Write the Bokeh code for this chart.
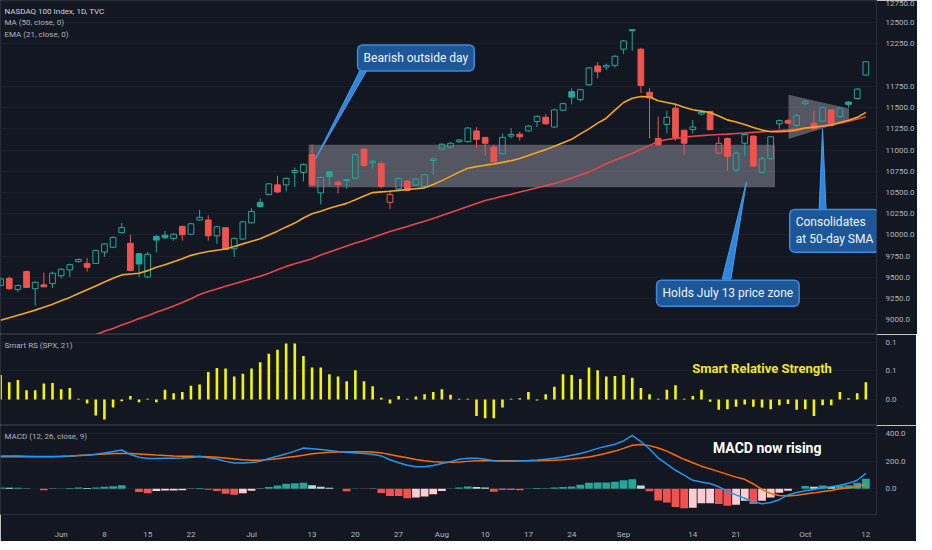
from bokeh.plotting import figure
from bokeh.layouts import column
from bokeh.models import Range1d, FixedTicker, PrintfTickFormatter, Label, ColumnDataSource
from bokeh.embed import file_html
from bokeh.resources import INLINE

# ---------------- data ----------------
opens = [9405, 9489, 9359, 9570, 9367, 9413, 9428, 9520, 9589, 9688,
         9665, 9665, 9799, 9856, 10028, 9902, 9780, 9505, 9983, 9998,
         9960, 10101, 10009, 10177, 10177, 9990, 10086, 9837, 9952, 10143,
         10384, 10476, 10590, 10590, 10736, 10736, 10946, 10495, 10743, 10621,
         10640, 10667, 11011, 10850, 10843, 10384, 10544, 10636, 10590, 10571,
         10877, 11011, 11034, 11099, 11099, 11225, 11149, 11034, 10957, 11164,
         11187, 11225, 11336, 11386, 11271, 11469, 11688, 11596, 11768, 11990,
         11978, 11997, 12188, 12406, 12188, 11680, 11137, 11301, 11493, 11233,
         11240, 11424, 11454, 10965, 11137, 10766, 11080, 11164, 10736, 10896,
         11309, 11347, 11290, 11546, 11317, 11340, 11473, 11393, 11565, 11607,
         11883]
highs = [9505, 9512, 9417, 9581, 9455, 9558, 9566, 9608, 9661, 9723,
         9730, 9826, 9906, 9983, 10143, 10002, 9788, 9799, 10002, 10047,
         10021, 10112, 10143, 10296, 10231, 10109, 10093, 9971, 10166, 10315,
         10430, 10613, 10697, 10678, 10793, 10843, 11068, 10690, 10755, 10640,
         10663, 10957, 11022, 10881, 10869, 10525, 10678, 10648, 10671, 10720,
         10904, 11080, 11091, 11129, 11271, 11271, 11156, 11061, 11194, 11259,
         11214, 11294, 11409, 11424, 11485, 11558, 11730, 11722, 11978, 12035,
         12016, 12120, 12295, 12425, 12204, 11730, 11393, 11462, 11546, 11240,
         11355, 11470, 11462, 11156, 11149, 10984, 11194, 11171, 10927, 11164,
         11359, 11366, 11424, 11592, 11462, 11512, 11481, 11504, 11577, 11730,
         12045]
lows = [9390, 9352, 9329, 9375, 9168, 9382, 9375, 9489, 9505, 9673,
        9570, 9658, 9742, 9845, 10017, 9573, 9505, 9489, 9795, 9952,
        9933, 9933, 10002, 10170, 9933, 9895, 9826, 9742, 9944, 10135,
        10323, 10468, 10495, 10514, 10564, 10629, 10583, 10361, 10583, 10487,
        10544, 10655, 10804, 10782, 10552, 10304, 10537, 10514, 10579, 10560,
        10705, 10999, 11022, 11087, 11087, 11022, 10934, 10850, 10946, 11137,
        11110, 11214, 11271, 11298, 11263, 11458, 11538, 11569, 11756, 11844,
        11940, 11970, 12131, 12169, 11672, 11137, 11053, 11194, 11110, 10934,
        11194, 11412, 11233, 10957, 10755, 10736, 10927, 10804, 10724, 10889,
        11252, 11302, 11271, 11531, 11240, 11328, 11278, 11382, 11500, 11596,
        11871]
closes = [9482, 9367, 9405, 9382, 9443, 9390, 9550, 9596, 9650, 9711,
          9619, 9818, 9895, 9971, 10086, 9581, 9658, 9772, 9940, 9967,
          10009, 10002, 10132, 10208, 9990, 10097, 9830, 9960, 10155, 10277,
          10334, 10602, 10506, 10667, 10759, 10831, 10590, 10678, 10686, 10594,
          10652, 10946, 10820, 10869, 10571, 10476, 10667, 10525, 10659, 10709,
          10896, 11068, 11080, 11118, 11259, 11126, 11080, 10862, 11149, 11183,
          11156, 11282, 11397, 11309, 11473, 11546, 11623, 11710, 11967, 11921,
          11997, 12104, 12284, 12418, 11760, 11615, 11061, 11386, 11149, 11080,
          11271, 11443, 11240, 11080, 10927, 10965, 11183, 10812, 10896, 11156,
          11347, 11317, 11405, 11569, 11252, 11500, 11290, 11493, 11538, 11718,
          12040.1]
ema21 = [8996, 9025, 9055, 9085, 9115, 9150, 9185, 9225, 9265, 9310,
         9355, 9400, 9445, 9490, 9530, 9540, 9550, 9580, 9620, 9650,
         9685, 9720, 9760, 9785, 9805, 9820, 9835, 9865, 9895, 9925,
         9955, 10000, 10045, 10095, 10140, 10200, 10250, 10280, 10315, 10345,
         10372, 10415, 10460, 10499, 10508, 10514, 10525, 10535, 10545, 10555,
         10595, 10640, 10690, 10740, 10785, 10805, 10822, 10835, 10855, 10875,
         10900, 10935, 10970, 11005, 11045, 11085, 11126, 11190, 11250, 11317,
         11375, 11470, 11560, 11610, 11630, 11625, 11580, 11560, 11540, 11505,
         11475, 11458, 11443, 11400, 11355, 11330, 11300, 11265, 11235, 11215,
         11215, 11222, 11235, 11260, 11270, 11280, 11295, 11325, 11350, 11385,
         11443]
sma50 = [8400, 8440, 8480, 8520, 8560, 8600, 8640, 8680, 8720, 8755,
         8790, 8825, 8865, 8900, 8939, 8975, 9015, 9050, 9090, 9125,
         9165, 9205, 9250, 9300, 9335, 9365, 9395, 9425, 9455, 9485,
         9515, 9550, 9590, 9630, 9660, 9690, 9720, 9765, 9800, 9835,
         9870, 9905, 9935, 9970, 10005, 10040, 10070, 10100, 10132, 10162,
         10195, 10230, 10265, 10300, 10335, 10370, 10405, 10430, 10455, 10480,
         10505, 10530, 10555, 10580, 10605, 10635, 10670, 10705, 10740, 10790,
         10840, 10880, 10920, 10960, 11010, 11055, 11100, 11125, 11137, 11150,
         11162, 11170, 11178, 11183, 11187, 11194, 11200, 11208, 11215, 11222,
         11230, 11238, 11248, 11258, 11270, 11288, 11300, 11317, 11340, 11365,
         11393]
smart_rs = [0.043, 0.030, 0.034, 0.016, 0.016, 0.028, 0.029, 0.018, 0.020, 0.001,
            -0.007, -0.028, -0.035, -0.014, -0.003, 0.006, -0.005, 0.001, -0.005, 0.017,
            0.011, 0.013, 0.024, 0.026, 0.048, 0.055, 0.054, 0.040, 0.045, 0.054,
            0.065, 0.080, 0.087, 0.098, 0.098, 0.076, 0.056, 0.056, 0.044, 0.040,
            0.032, 0.051, 0.032, 0.023, 0.003, -0.007, 0.006, 0.001, 0.005, 0.009,
            0.013, 0.018, 0.008, 0.001, 0.001, -0.029, -0.033, -0.033, -0.014, 0.001,
            0.002, 0.013, -0.002, 0.009, 0.022, 0.044, 0.043, 0.036, 0.056, 0.051,
            0.040, 0.041, 0.043, 0.038, 0.020, 0.009, 0.001, 0.017, 0.025, 0.001,
            0.006, 0.017, -0.004, -0.018, -0.017, -0.013, -0.009, -0.013, -0.014, -0.017,
            -0.010, -0.008, -0.018, -0.017, -0.029, -0.010, -0.010, 0.013, 0.002, 0.011,
            0.030]
macd_line = [240, 240, 240, 238, 235, 235, 236, 238, 240, 242,
             245, 252, 262, 272, 283, 250, 230, 221, 221, 222,
             222, 224, 228, 236, 226, 218, 200, 188, 188, 192,
             200, 222, 238, 255, 275, 298, 292, 286, 280, 272,
             266, 262, 258, 252, 240, 212, 190, 172, 160, 160,
             170, 185, 198, 215, 222, 222, 215, 205, 200, 200,
             203, 206, 210, 215, 222, 232, 245, 258, 275, 295,
             310, 325, 350, 390, 345, 290, 225, 180, 135, 100,
             62, 50, 38, 15, -20, -45, -69, -95, -109, -100,
             -80, -45, -28, -15, -5, 8, 15, 25, 40, 62,
             112]
signal_line = [233, 234, 235, 234, 233, 233, 234, 235, 238, 242,
               246, 250, 254, 257, 258, 257, 254, 250, 246, 243,
               240, 238, 237, 236, 234, 230, 224, 218, 212, 208,
               208, 213, 220, 228, 236, 245, 255, 262, 266, 268,
               269, 270, 270, 268, 262, 250, 238, 226, 214, 204,
               197, 195, 194, 196, 200, 204, 205, 205, 205, 205,
               205, 205, 205, 206, 208, 212, 217, 224, 232, 245,
               260, 275, 295, 318, 324, 315, 298, 275, 245, 215,
               190, 165, 145, 125, 105, 85, 69, 35, -5, -35,
               -50, -52, -48, -38, -30, -20, -12, 0, 8, 18,
               31]
macd_hist = [10, 7, 7, 2, 0, -10, -2, 1, 6, 9,
             5, 9, 14, 19, 26, 0, -24, -33, -17, -12,
             -12, -10, -2, 5, -7, -17, -36, -43, -33, -14,
             -2, 12, 24, 36, 40, 43, 26, 14, 7, 0,
             -19, 1, -1, -1, -31, -52, -53, -69, -64, -57,
             -40, -17, 2, 10, 17, 12, 10, -21, -5, -5,
             -10, 2, 5, 2, 10, 12, 17, 29, 43, 45,
             45, 52, 62, 69, 24, -19, -86, -100, -133, -143,
             -138, -105, -105, -112, -124, -117, -88, -112, -88, -64,
             -29, -14, 0, 21, 14, 24, 14, 24, 26, 43,
             74]

# time axis: trading-day index of each labelled date and its text
date_tick_index = [7, 12, 17, 22, 29, 36, 41, 46, 51, 56, 61, 66, 72, 80, 85, 93, 100]
date_tick_label = ["Jun", "8", "15", "22", "Jul", "13", "20", "27", "Aug",
                   "10", "17", "24", "Sep", "14", "21", "Oct", "12"]
price_ticks = [9000, 9250, 9500, 9750, 10000, 10250, 10500, 10750, 11000,
               11250, 11500, 11750, 12250, 12500, 12750]
rs_ticks = [0.0, 0.05, 0.1]
macd_ticks = [0, 200, 400]

# drawings on the chart (index, price)
zone_left, zone_right, zone_top, zone_bottom = [35.6], [89.5], [11061], [10563]
wedge_x = [91.06, 98.05, 98.05, 91.06]
wedge_y = [11652, 11489, 11351, 11130]
callout_text = ["Bearish outside day", "Holds July 13 price zone", "Consolidates\nat 50-day SMA"]
callout_x = [48.0, 84.05, 91.2]
callout_y = [12085, 9315, 10049]
callout_align = ["center", "center", "left"]
pointer_x = [[41.6, 42.4, 36.4], [83.4, 84.4, 86.2], [94.6, 95.4, 95.0]]
pointer_y = [[11950, 11950, 10895], [9480, 9480, 10625], [10290, 10290, 11250]]

# ---------------- style ----------------
BG = "#131722"
TEAL, RED = "#26a69a", "#ef5350"
LTEAL, PINK = "#b2dfdb", "#ffcdd2"
AXC = "#b2b5be"
GRID = "#1b1f2c"
FONT = "Roboto"
FW = 876
n = len(closes)
idx = list(range(n))

xr = Range1d(-0.01, 101.23)


def make_fig(fh, yr, with_x=False):
    p = figure(frame_width=FW, frame_height=fh, x_range=xr, y_range=yr,
               output_backend="svg", toolbar_location=None,
               x_axis_location="below" if with_x else None,
               y_axis_location="right",
               background_fill_color=BG, border_fill_color=BG,
               min_border_left=0, min_border_top=0, min_border_right=40,
               min_border_bottom=20 if with_x else 0,
               outline_line_color="#2a2e39", outline_line_width=1)
    ax = p.yaxis[0]
    ax.major_tick_line_color = None
    ax.minor_tick_line_color = None
    ax.axis_line_color = "#2a2e39"
    ax.major_label_text_color = AXC
    ax.major_label_text_font = FONT
    ax.major_label_text_font_size = "8px"
    ax.major_label_standoff = 3
    p.xgrid.visible = False
    p.ygrid.grid_line_color = GRID
    return p


# ---------------- main price panel ----------------
p1 = make_fig(334, Range1d(8828, 12761))
p1.yaxis[0].ticker = FixedTicker(ticks=price_ticks)
p1.yaxis[0].formatter = PrintfTickFormatter(format="%.1f")
p1.ygrid.ticker = FixedTicker(ticks=price_ticks)

colors, fills, btop, bbot = [], [], [], []
for i in range(n):
    prev = closes[i - 1] if i > 0 else opens[i]
    colors.append(TEAL if closes[i] >= prev else RED)
    fills.append(1.0 if closes[i] < opens[i] else 0.0)
    btop.append(max(opens[i], closes[i]))
    bbot.append(min(opens[i], closes[i]))
src = ColumnDataSource(dict(x=idx, h=highs, l=lows, bt=btop, bb=bbot, col=colors, fa=fills))

p1.quad(left=zone_left, right=zone_right, top=zone_top, bottom=zone_bottom,
        fill_color="#9598a1", fill_alpha=0.5, line_color=None)
p1.patch(wedge_x, wedge_y, fill_color="#9598a1", fill_alpha=0.5, line_color=None)

p1.segment(x0="x", y0="h", x1="x", y1="bt", line_color="col", line_width=1, source=src)
p1.segment(x0="x", y0="bb", x1="x", y1="l", line_color="col", line_width=1, source=src)
p1.vbar(x="x", width=0.66, top="bt", bottom="bb", fill_color="col", fill_alpha="fa",
        line_color="col", line_width=1, source=src)

p1.line(idx, sma50, line_color="#e8454c", line_width=1.6)
p1.line(idx, ema21, line_color="#f5a623", line_width=1.6)

for px, py in zip(pointer_x, pointer_y):
    p1.patch(px, py, fill_color="#2f86d9", line_color="#4a9cf0", line_width=1)

for t, x, y, a in zip(callout_text, callout_x, callout_y, callout_align):
    p1.add_layout(Label(x=x, y=y, text=t, text_align=a, text_baseline="middle",
                        text_color="#eef4fc", text_font=FONT, text_font_size="12px",
                        background_fill_color="#1d5797", background_fill_alpha=1.0,
                        border_line_color="#3a8be0", border_line_width=1.5,
                        padding=6, border_radius=5))

legend1 = ["NASDAQ 100 Index, 1D, TVC", "MA (50, close, 0)", "EMA (21, close, 0)"]
for k, t in enumerate(legend1):
    p1.add_layout(Label(x=4, y=323 - 11.3 * k, x_units="screen", y_units="screen",
                        text=t, text_baseline="middle", text_font=FONT,
                        text_font_size="8px",
                        text_color="#d1d4dc" if k == 0 else AXC))

p1.add_layout(Label(x=FW + 1, x_units="screen", y=closes[-1], text="%.1f" % closes[-1],
                    text_align="left", text_baseline="middle", text_color="#ffffff",
                    text_font=FONT, text_font_size="8px",
                    background_fill_color=TEAL, padding=2))
p1.add_layout(Label(x=FW + 1, x_units="screen", y=closes[-1], y_offset=-14,
                    text="03:54:17", text_align="left", text_baseline="middle",
                    text_color="#ffffff", text_font=FONT, text_font_size="8px",
                    background_fill_color=TEAL, padding=2))
p1.add_layout(Label(x=FW + 19, x_units="screen", y=324, y_units="screen", text="USD",
                    text_align="center", text_baseline="middle", text_color=AXC,
                    text_font=FONT, text_font_size="8px",
                    background_fill_color=BG,
                    border_line_color="#363a45", padding=1))

# ---------------- Smart RS panel ----------------
p2 = make_fig(91, Range1d(-0.0457, 0.1138))
p2.yaxis[0].ticker = FixedTicker(ticks=rs_ticks)
p2.yaxis[0].formatter = PrintfTickFormatter(format="%.1f")
p2.ygrid.ticker = FixedTicker(ticks=rs_ticks)
p2.vbar(x=idx, top=smart_rs, bottom=0, width=0.3, fill_color="#f5f500", line_color=None)
p2.add_layout(Label(x=4, y=80, x_units="screen", y_units="screen", text="Smart RS (SPX, 21)",
                    text_baseline="middle", text_font=FONT, text_font_size="8px",
                    text_color=AXC))
p2.add_layout(Label(x=88.0, y=0.054, text="Smart Relative Strength", text_align="center",
                    text_baseline="middle", text_font=FONT, text_font_size="13px",
                    text_font_style="bold", text_color="#f3e52c"))

# ---------------- MACD panel ----------------
p3 = make_fig(89, Range1d(-188, 462), with_x=True)
p3.yaxis[0].ticker = FixedTicker(ticks=macd_ticks)
p3.yaxis[0].formatter = PrintfTickFormatter(format="%.1f")
p3.ygrid.ticker = FixedTicker(ticks=macd_ticks)
hcol = []
for i in range(n):
    prev = macd_hist[i - 1] if i > 0 else 0
    h = macd_hist[i]
    if h >= 0:
        hcol.append(TEAL if h >= prev else LTEAL)
    else:
        hcol.append(RED if h < prev else PINK)
p3.vbar(x=idx, top=macd_hist, bottom=0, width=0.9, fill_color=hcol, line_color=None)
p3.line(idx, signal_line, line_color="#ff6d00", line_width=1.5)
p3.line(idx, macd_line, line_color="#2196f3", line_width=1.5)
p3.add_layout(Label(x=4, y=78, x_units="screen", y_units="screen", text="MACD (12, 26, close, 9)",
                    text_baseline="middle", text_font=FONT, text_font_size="8px",
                    text_color=AXC))
p3.add_layout(Label(x=88.6, y=298, text="MACD now rising", text_align="center",
                    text_baseline="middle", text_font=FONT, text_font_size="14px",
                    text_font_style="bold", text_color="#ffffff"))

xa = p3.xaxis[0]
xa.ticker = FixedTicker(ticks=date_tick_index)
xa.major_label_overrides = dict(zip(date_tick_index, date_tick_label))
xa.axis_line_color = None
xa.major_tick_line_color = None
xa.minor_tick_line_color = None
xa.major_label_text_color = AXC
xa.major_label_text_font = FONT
xa.major_label_text_font_size = "8px"
xa.major_label_standoff = 9

layout = column(p1, p2, p3, spacing=0)
open("out.html", "w").write(file_html(layout, INLINE))
